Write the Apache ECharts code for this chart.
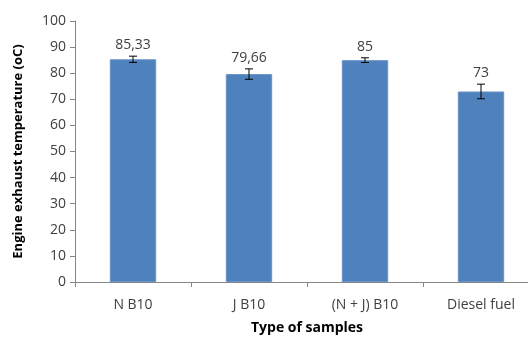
<!DOCTYPE html>
<html>
<head>
<meta charset="utf-8">
<script src="https://cdn.jsdelivr.net/npm/echarts@6/dist/echarts.min.js"></script>
<style>
  html, body { margin: 0; padding: 0; background: #fff; }
  #chart { width: 528px; height: 338px; }
</style>
</head>
<body>
<div id="chart"></div>
<script>
// Exhaust temperature per fuel sample, with standard-deviation error bars
const categories = ['N B10', 'J B10', '(N + J) B10', 'Diesel fuel'];
const temperatures = [85.33, 79.66, 85, 73];
const errors = [1.2, 2.0, 0.9, 2.8];
const valueLabels = ['85,33', '79,66', '85', '73'];
const yTicks = { min: 0, max: 100, interval: 10 };

const FONT = '"Open Sans", "Liberation Sans", sans-serif';
const TEXT = '#404040';
const AXIS = '#868686';

const chart = echarts.init(document.getElementById('chart'), null, { renderer: 'canvas' });

const errorData = categories.map((c, i) => [i, temperatures[i] - errors[i], temperatures[i] + errors[i], temperatures[i]]);

chart.setOption({
  animation: false,
  grid: { left: 75, top: 21, width: 464, height: 261, containLabel: false, outerBoundsMode: 'none' },
  xAxis: {
    type: 'category',
    data: categories,
    boundaryGap: true,
    name: 'Type of samples',
    nameLocation: 'middle',
    nameGap: 39,
    nameTextStyle: { fontFamily: FONT, fontWeight: 'bold', fontSize: 14, color: '#000' },
    axisLine: { lineStyle: { color: AXIS } },
    axisTick: { show: true, length: 5, lineStyle: { color: AXIS }, alignWithLabel: false },
    axisLabel: { fontFamily: FONT, fontSize: 14, color: TEXT, margin: 16 },
    splitLine: { show: false }
  },
  yAxis: {
    type: 'value',
    min: yTicks.min,
    max: yTicks.max,
    interval: yTicks.interval,
    name: 'Engine exhaust temperature (oC)',
    nameLocation: 'middle',
    nameGap: 50,
    nameRotate: 90,
    nameTextStyle: { fontFamily: FONT, fontWeight: 'bold', fontSize: 13, color: '#000' },
    axisLine: { show: true, lineStyle: { color: AXIS } },
    axisTick: { show: true, length: 5, lineStyle: { color: AXIS } },
    axisLabel: { fontFamily: FONT, fontSize: 14, color: TEXT, margin: 9 },
    splitLine: { show: false }
  },
  series: [
    {
      type: 'bar',
      data: temperatures,
      barWidth: '40%',
      itemStyle: { color: '#4F81BD', borderColor: '#6A93C8', borderWidth: 1 }
    },
    {
      type: 'custom',
      data: errorData,
      z: 10,
      renderItem: function (params, api) {
        const x = api.value(0);
        const lo = api.coord([x, api.value(1)]);
        const hi = api.coord([x, api.value(2)]);
        const cap = 4;
        const style = { stroke: '#000', lineWidth: 1 };
        return {
          type: 'group',
          children: [
            { type: 'line', shape: { x1: lo[0], y1: lo[1], x2: hi[0], y2: hi[1] }, style: style },
            { type: 'line', shape: { x1: lo[0] - cap, y1: lo[1], x2: lo[0] + cap, y2: lo[1] }, style: style },
            { type: 'line', shape: { x1: hi[0] - cap, y1: hi[1], x2: hi[0] + cap, y2: hi[1] }, style: style },
            {
              type: 'text',
              x: hi[0],
              y: hi[1] - 4,
              style: {
                text: valueLabels[params.dataIndex],
                fill: TEXT,
                font: '14px ' + FONT,
                textAlign: 'center',
                textVerticalAlign: 'bottom'
              }
            }
          ]
        };
      }
    }
  ]
});
</script>
</body>
</html>
